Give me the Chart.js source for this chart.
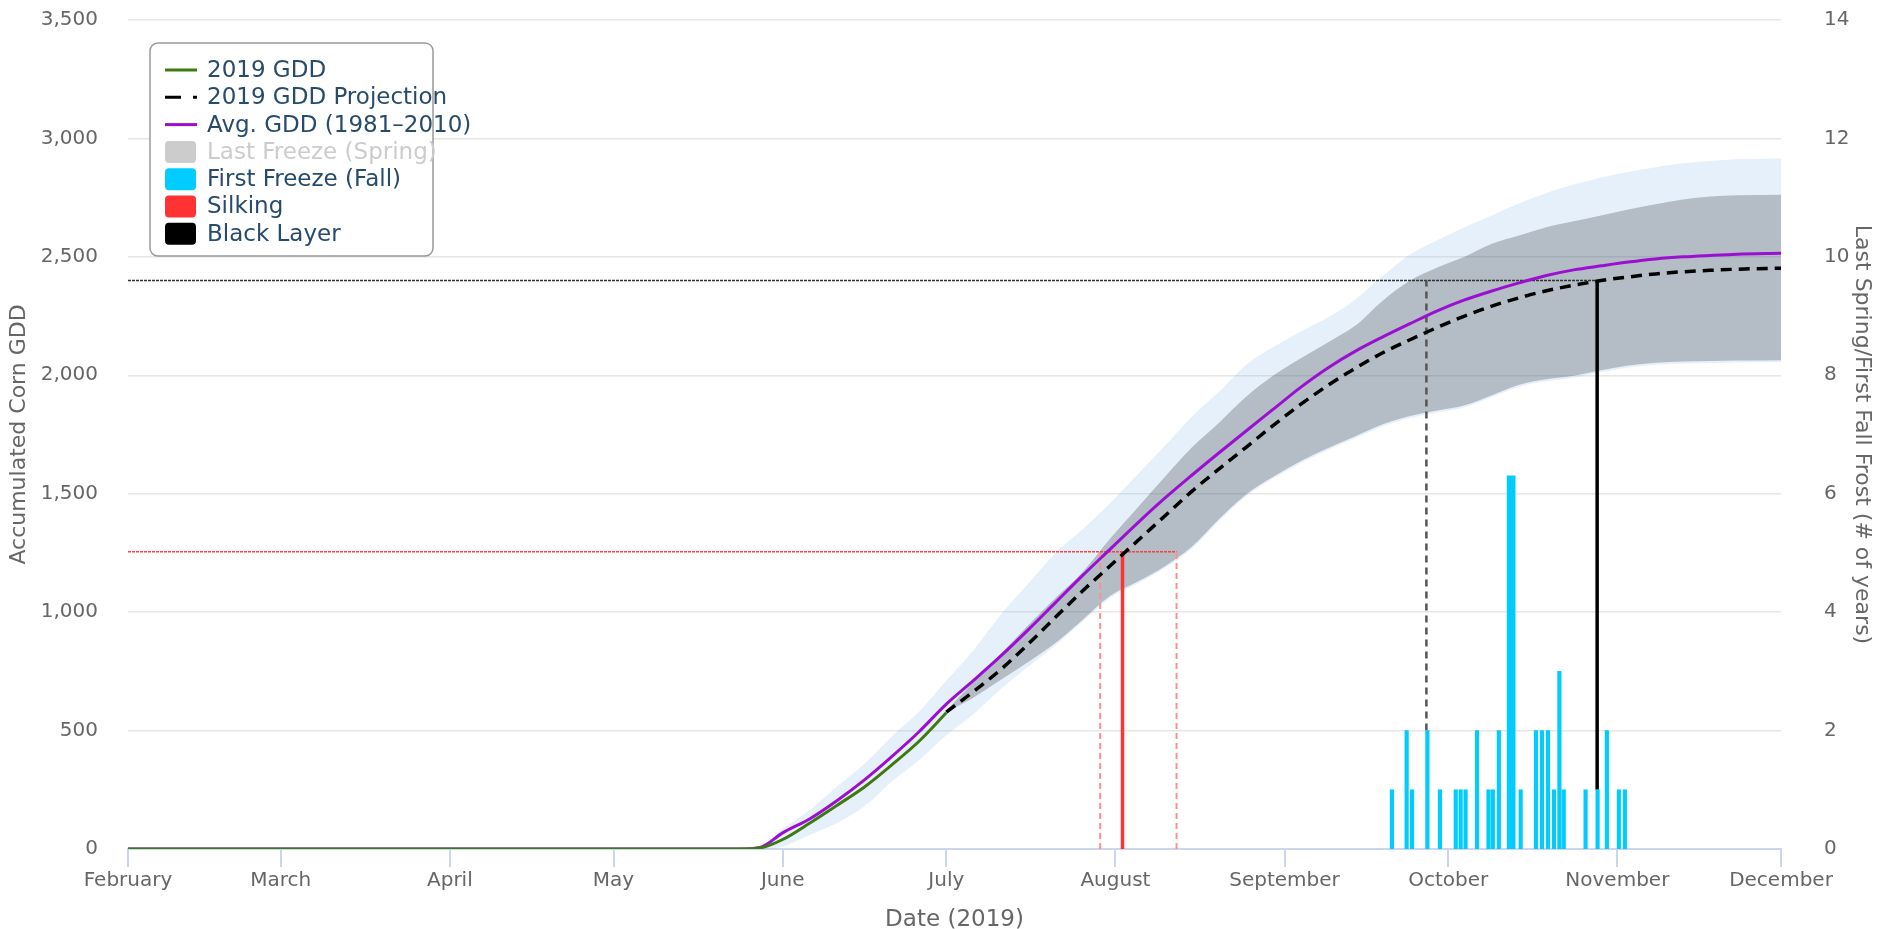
<!DOCTYPE html>
<html>
<head>
<meta charset="utf-8">
<script src="https://cdn.jsdelivr.net/npm/chart.js@4.4.1/dist/chart.umd.min.js"></script>
<style>
  html, body { margin: 0; padding: 0; background: #fff; }
  #wrap { width: 1877px; height: 929px; }
</style>
</head>
<body>
<div id="wrap"><canvas id="myChart" width="1877" height="929"></canvas></div>
<script>
// x axis = days since Feb 1 2019
const months = ['February', 'March', 'April', 'May', 'June', 'July', 'August', 'September', 'October', 'November', 'December'];
const monthStartDays = [0, 28, 59, 89, 120, 150, 181, 212, 242, 273, 303];

const days = [0, 112, 116, 120, 125, 130, 135, 140, 145, 150, 155, 160, 165, 170, 175, 180, 185, 190, 195, 200,
  205, 210, 215, 220, 225, 230, 235, 240, 245, 250, 255, 260, 265, 270, 275, 280, 285, 290, 295, 303];

const gdd2019 = [0, 0, 5, 40, 110, 185, 262, 355, 455, 575];

const avgGdd = [0, 0, 8, 68, 128, 205, 292, 390, 495, 612, 712, 815, 925, 1040, 1155, 1265, 1375, 1480, 1578, 1673,
  1766, 1858, 1950, 2032, 2102, 2162, 2218, 2272, 2318, 2356, 2390, 2421, 2445, 2462, 2478, 2491, 2500, 2506, 2511, 2515];

const histUpper = [0, 0, 10, 85, 165, 265, 360, 475, 580, 710, 840, 990, 1120, 1250, 1350, 1460, 1580, 1700, 1825, 1930,
  2045, 2120, 2185, 2245, 2320, 2420, 2510, 2570, 2625, 2675, 2725, 2770, 2805, 2835, 2858, 2878, 2895, 2905, 2912, 2915];
const histLower = [0, 0, 0, 10, 60, 110, 180, 285, 375, 480, 570, 675, 770, 860, 960, 1060, 1120, 1185, 1268, 1385,
  1490, 1565, 1630, 1685, 1735, 1785, 1820, 1843, 1865, 1908, 1952, 1975, 1990, 2013, 2033, 2045, 2050, 2052, 2054, 2056];

// projection starts on July 1 (day 150)
const projStart = 9;
const projGdd = [578, 665, 758, 865, 978, 1090, 1195, 1300, 1405, 1510, 1605, 1697, 1790, 1878, 1958, 2030,
  2095, 2150, 2202, 2250, 2292, 2327, 2357, 2380, 2400, 2415, 2428, 2437, 2443, 2448, 2452];
const projUpper = [585, 705, 825, 945, 1060, 1170, 1310, 1440, 1570, 1695, 1800, 1910, 2000, 2072, 2140, 2210,
  2315, 2400, 2455, 2500, 2555, 2590, 2625, 2650, 2675, 2700, 2722, 2742, 2755, 2760, 2762];
const projLower = [578, 640, 715, 790, 870, 968, 1068, 1128, 1193, 1276, 1393, 1498, 1573, 1638, 1693, 1743,
  1793, 1828, 1851, 1873, 1916, 1960, 1983, 1998, 2021, 2041, 2053, 2058, 2060, 2062, 2064];

// first fall freeze, # of years per day
const fallDays = [232, 234.7, 235.7, 238.5, 240.8, 243.7, 244.6, 245.5, 247.6, 249.7, 250.5, 251.6, 253.8, 255.6,
  258.4, 259.5, 260.6, 261.7, 262.7, 263.5, 267.5, 269.7, 271.4, 273.6, 274.7];
const fallYears = [1, 2, 1, 2, 1, 1, 1, 1, 2, 1, 1, 2, 1, 1, 2, 2, 2, 1, 3, 1, 1, 1, 2, 1, 1];
const fallPeakDay = 252.8;
const fallPeakYears = 6.3;

// silking: early / expected / late date and GDD target
const silkDays = [178.2, 182.3, 192.2];
const silkGdd = 1255;
// black layer: early / expected date and GDD target
const blackDays = [238, 269.3];
const blackGdd = 2400;

const green = '#3f7a10';
const purple = '#9b10d0';
const cyan = '#00ccff';
const red = '#ff3333';

function pts(xs, ys, offset) {
  return ys.map((v, i) => ({ x: xs[i + (offset || 0)], y: v }));
}

function seg(x1, y1, x2, y2, color, width, dash, order) {
  return {
    type: 'line', data: [{ x: x1, y: y1 }, { x: x2, y: y2 }],
    borderColor: color, borderWidth: width, borderDash: dash || [],
    pointRadius: 0, fill: false, order: order
  };
}

const datasets = [];
// 0,1 historical range
datasets.push({ type: 'line', data: pts(days, histLower), borderWidth: 0, pointRadius: 0, fill: false, order: 20, cubicInterpolationMode: 'monotone' });
datasets.push({ type: 'line', data: pts(days, histUpper), borderWidth: 0, pointRadius: 0, fill: { target: 0 },
  backgroundColor: 'rgba(124,181,236,0.2)', order: 19, cubicInterpolationMode: 'monotone' });
// 2,3 projection range
datasets.push({ type: 'line', data: pts(days, projLower, projStart), borderWidth: 0, pointRadius: 0, fill: false, order: 18, cubicInterpolationMode: 'monotone' });
datasets.push({ type: 'line', data: pts(days, projUpper, projStart), borderWidth: 0, pointRadius: 0, fill: { target: 2 },
  backgroundColor: 'rgba(67,67,72,0.3)', order: 17, cubicInterpolationMode: 'monotone' });

// target lines
datasets.push(seg(0, silkGdd, silkDays[2], silkGdd, '#ff4040', 1.5, [3, 1], 10));
datasets.push(seg(0, blackGdd, blackDays[1], blackGdd, '#333', 1.5, [3, 1], 10));
datasets.push(seg(silkDays[0], 0, silkDays[0], silkGdd, '#ff9090', 2, [6, 4], 9));
datasets.push(seg(silkDays[2], 0, silkDays[2], silkGdd, '#ff9090', 2, [6, 4], 9));
datasets.push(seg(blackDays[0], 500, blackDays[0], blackGdd, '#555', 2.5, [7, 5], 9));
datasets.push(seg(silkDays[1], 0, silkDays[1], silkGdd, red, 3.5, [], 8));
datasets.push(seg(blackDays[1], 250, blackDays[1], blackGdd, '#000', 3.5, [], 8));

// main series
datasets.push({ type: 'line', label: 'Avg. GDD (1981–2010)', data: pts(days, avgGdd), borderColor: purple, borderWidth: 3,
  pointRadius: 0, fill: false, order: 4, cubicInterpolationMode: 'monotone' });
datasets.push({ type: 'line', label: '2019 GDD Projection', data: pts(days, projGdd, projStart), borderColor: '#000', borderWidth: 3.5,
  borderDash: [11, 7], pointRadius: 0, fill: false, order: 3, cubicInterpolationMode: 'monotone' });
datasets.push({ type: 'line', label: '2019 GDD', data: pts(days, gdd2019), borderColor: green, borderWidth: 3,
  pointRadius: 0, fill: false, order: 3, cubicInterpolationMode: 'monotone' });

// freeze bars
datasets.push({ type: 'bar', label: 'First Freeze (Fall)', yAxisID: 'y1', data: [{ x: fallPeakDay, y: fallPeakYears }],
  backgroundColor: cyan, barThickness: 8, order: 2 });
datasets.push({ type: 'bar', label: 'First Freeze (Fall)', yAxisID: 'y1', data: pts(fallDays, fallYears),
  backgroundColor: cyan, barThickness: 3.5, order: 1 });

const legendItems = [
  { text: '2019 GDD', kind: 'line', color: green },
  { text: '2019 GDD Projection', kind: 'dash', color: '#000' },
  { text: 'Avg. GDD (1981–2010)', kind: 'line', color: purple },
  { text: 'Last Freeze (Spring)', kind: 'box', color: '#cccccc', textColor: '#cccccc' },
  { text: 'First Freeze (Fall)', kind: 'box', color: cyan },
  { text: 'Silking', kind: 'box', color: red },
  { text: 'Black Layer', kind: 'box', color: '#000' }
];

function roundRect(ctx, x, y, w, h, r) {
  ctx.beginPath();
  ctx.moveTo(x + r, y);
  ctx.arcTo(x + w, y, x + w, y + h, r);
  ctx.arcTo(x + w, y + h, x, y + h, r);
  ctx.arcTo(x, y + h, x, y, r);
  ctx.arcTo(x, y, x + w, y, r);
  ctx.closePath();
}

const boxLegend = {
  id: 'boxLegend',
  afterDraw(chart) {
    const ctx = chart.ctx;
    const x0 = chart.chartArea.left + 22;
    const y0 = chart.chartArea.top + 23;
    ctx.save();
    roundRect(ctx, x0, y0, 283, 213, 8);
    ctx.fillStyle = '#fff';
    ctx.fill();
    ctx.strokeStyle = '#999';
    ctx.lineWidth = 1.5;
    ctx.stroke();
    ctx.font = '23px "DejaVu Sans"';
    ctx.textBaseline = 'middle';
    legendItems.forEach((it, i) => {
      const cy = y0 + 27 + i * 27.3;
      if (it.kind === 'box') {
        ctx.fillStyle = it.color;
        roundRect(ctx, x0 + 15, cy - 11, 31, 22, 4);
        ctx.fill();
      } else {
        ctx.strokeStyle = it.color;
        ctx.lineWidth = 3;
        ctx.setLineDash(it.kind === 'dash' ? [16, 12] : []);
        ctx.beginPath();
        ctx.moveTo(x0 + 15, cy);
        ctx.lineTo(x0 + 47, cy);
        ctx.stroke();
        ctx.setLineDash([]);
      }
      ctx.fillStyle = it.textColor || '#274b6d';
      ctx.fillText(it.text, x0 + 57, cy + 1);
    });
    ctx.restore();
  }
};

Chart.defaults.font.family = '"DejaVu Sans", sans-serif';

function fixY(width) {
  return (s) => { s.width = width; s.paddingTop = 0; s.paddingBottom = 0; };
}

const ctx = document.getElementById('myChart').getContext('2d');
const myChart = new Chart(ctx, {
  data: { datasets: datasets },
  options: {
    responsive: false,
    animation: false,
    devicePixelRatio: 1,
    layout: { padding: { top: 20, right: 0, left: 0, bottom: 0 } },
    plugins: { legend: { display: false }, tooltip: { enabled: false } },
    scales: {
      x: {
        type: 'linear', min: 0, max: 303, offset: false,
        afterBuildTicks: (s) => { s.ticks = monthStartDays.map(v => ({ value: v })); },
        afterFit: (s) => { s.height = 80; },
        ticks: {
          callback: (v) => months[monthStartDays.indexOf(v)],
          autoSkip: false, maxRotation: 0, color: '#666', font: { size: 20 }, padding: 2
        },
        grid: { offset: false, drawOnChartArea: false, drawTicks: true, tickLength: 18, color: '#ccd6eb', lineWidth: 2 },
        border: { color: '#ccd6eb', width: 2 },
        title: { display: true, text: 'Date (2019)', color: '#666', font: { size: 23, lineHeight: 0.8 }, padding: { top: 0, bottom: 0 } }
      },
      y: {
        position: 'left', min: 0, max: 3500,
        afterFit: fixY(128),
        ticks: { stepSize: 500, color: '#666', font: { size: 20 }, padding: 30,
          callback: (v) => v.toLocaleString('en-US') },
        grid: { color: '#e6e6e6', lineWidth: 1.5, drawTicks: false },
        border: { display: false },
        title: { display: true, text: 'Accumulated Corn GDD', color: '#666', font: { size: 22 }, padding: { top: 6, bottom: 0 } }
      },
      y1: {
        position: 'right', min: 0, max: 14,
        afterFit: fixY(96),
        ticks: { stepSize: 2, color: '#666', font: { size: 20 }, padding: 43 },
        grid: { display: false, drawTicks: false },
        border: { display: false },
        title: { display: true, text: 'Last Spring/First Fall Frost (# of years)', color: '#666', font: { size: 22 }, padding: { top: 2, bottom: 0 } }
      }
    }
  },
  plugins: [boxLegend]
});
</script>
</body>
</html>
